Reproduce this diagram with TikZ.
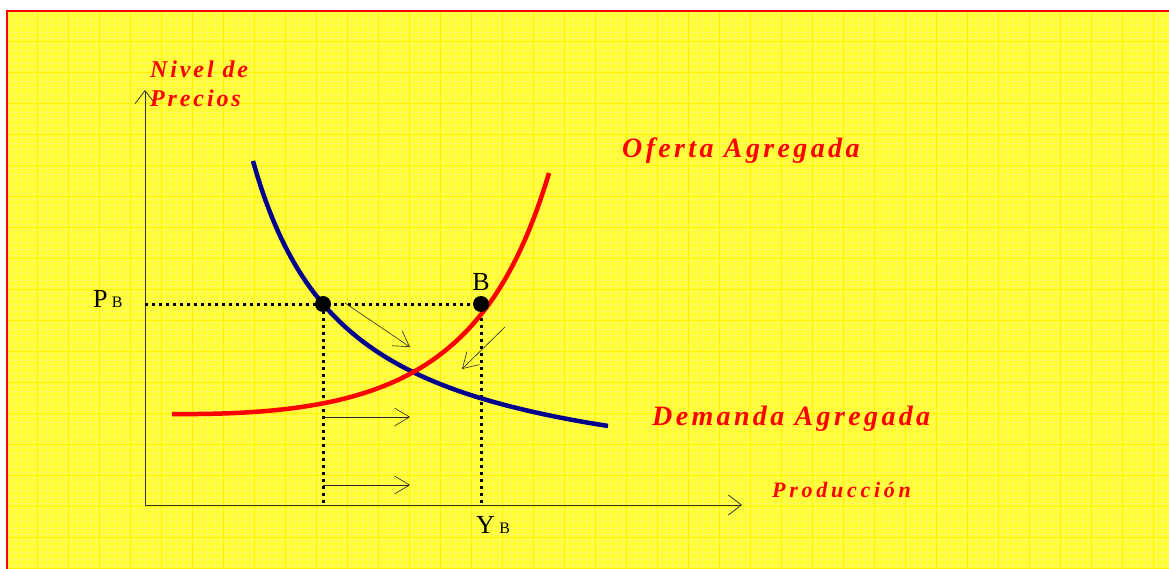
\documentclass[tikz,border=0pt]{standalone}
\usepackage{fontspec}
\setmainfont{Liberation Serif}
\newfontfamily\lblfont[LetterSpace=12]{Liberation Serif}
\newfontfamily\smlfont[LetterSpace=17]{Liberation Serif}
\usetikzlibrary{arrows.meta}
\definecolor{bgyellow}{RGB}{255,255,50}
\definecolor{demblue}{RGB}{0,0,140}
\tikzset{
  lbl/.style={text=red,font=\lblfont\bfseries\itshape\fontsize{28}{30}\selectfont,inner sep=0pt,anchor=base west},
  lblsmall/.style={lbl,font=\smlfont\bfseries\itshape\fontsize{22}{26}\selectfont},
  plain/.style={font=\fontsize{26}{28}\selectfont,inner sep=0pt},
  axis/.style={line width=1pt,draw=black!80,-{Straight Barb[length=13pt,width=20pt,line width=0.8pt]}},
  thinarrow/.style={line width=0.6pt,draw=black!85,-{Straight Barb[length=15pt,width=18pt,line width=0.6pt]}},
  guide/.style={line width=3pt,dash pattern=on 3pt off 4pt},
  curve/.style={line width=4.5pt},
  pt/.style={circle,fill=black,inner sep=0pt,minimum size=16pt}
}
\begin{document}
\begin{tikzpicture}[x=1pt,y=-1pt]
\useasboundingbox (0,0) rectangle (1169,569);
% background
\fill[white] (0,0) rectangle (1169,569);
\fill[bgyellow] (6,10) rectangle (1169,569);
\foreach \i in {0,...,190} {\draw[white!40!yellow,line width=0.3pt] ({6+3.1+\i*6.2},10) -- ({6+3.1+\i*6.2},569);}
\foreach \i in {0,...,90} {\draw[white!40!yellow,line width=0.3pt] (6,{10+3.1+\i*6.2}) -- (1169,{10+3.1+\i*6.2});}
\foreach \i in {1,...,38} {\draw[yellow,line width=0.8pt] ({6+\i*31},10) -- ({6+\i*31},569);}
\foreach \i in {1,...,18} {\draw[yellow,line width=0.8pt] (6,{10+\i*31}) -- (1169,{10+\i*31});}
\draw[red,line width=2pt] (7,569) -- (7,11) -- (1169,11);

% coordinates
\coordinate (O) at (145,505);
\coordinate (ytop) at (145,90);
\coordinate (xend) at (742,505);
\coordinate (pbaxis) at (145,304);
\coordinate (ax1) at (323,505);
\coordinate (axB) at (481,505);

% axes
\draw[axis] (O) -- (ytop);
\draw[axis] (O) -- (xend);

% guides
\draw[guide] (pbaxis) -- (481,304);
\draw[guide] (323,304) -- (ax1);
\draw[guide] (481,304) -- (axB);

% demand curve
\draw[demblue,curve] plot[domain=253:608,samples=80,smooth] (\x,{496.2-315.46/((\x-158.9)/100)});
% supply curve
\coordinate (s0) at (172,414);
\coordinate (s3) at (549,173);
\draw[red,curve] (s0) .. controls (390,416) and (490,370) .. (s3);

% points
\node[pt] (A) at (323,304) {};
\node[pt] (B) at (481,304) {};

% small arrows
\coordinate (a1s) at (345,303); \coordinate (a1e) at (410,347);
\coordinate (a2s) at (505,327); \coordinate (a2e) at (462,369);
\coordinate (a3s) at (323,417); \coordinate (a3e) at (410,417);
\coordinate (a4s) at (323,485); \coordinate (a4e) at (410,485);
\draw[thinarrow] (a1s) -- (a1e);
\draw[thinarrow] (a2s) -- (a2e);
\draw[thinarrow] (a3s) -- (a3e);
\draw[thinarrow] (a4s) -- (a4e);

% labels
\node[lblsmall,font=\lblfont\bfseries\itshape\fontsize{24}{26}\selectfont] (niv) at (150,78) {Nivel de};
\node[lblsmall,font=\lblfont\bfseries\itshape\fontsize{24}{26}\selectfont] (pre) at (150,107) {Precios};
\node[lbl] (of) at (622,158) {Oferta Agregada};
\node[lbl] (de) at (652,425) {Demanda Agregada};
\node[lblsmall] (pr) at (772,497) {Producción};
\node[plain,anchor=base west] (pb) at (93,307) {P\,{\fontsize{16}{17}\selectfont B}};
\node[plain,anchor=base] (bl) at (481,290) {B};
\node[plain,anchor=base west] (yb) at (476,533) {Y\,{\fontsize{16}{17}\selectfont B}};
\end{tikzpicture}
\end{document}
